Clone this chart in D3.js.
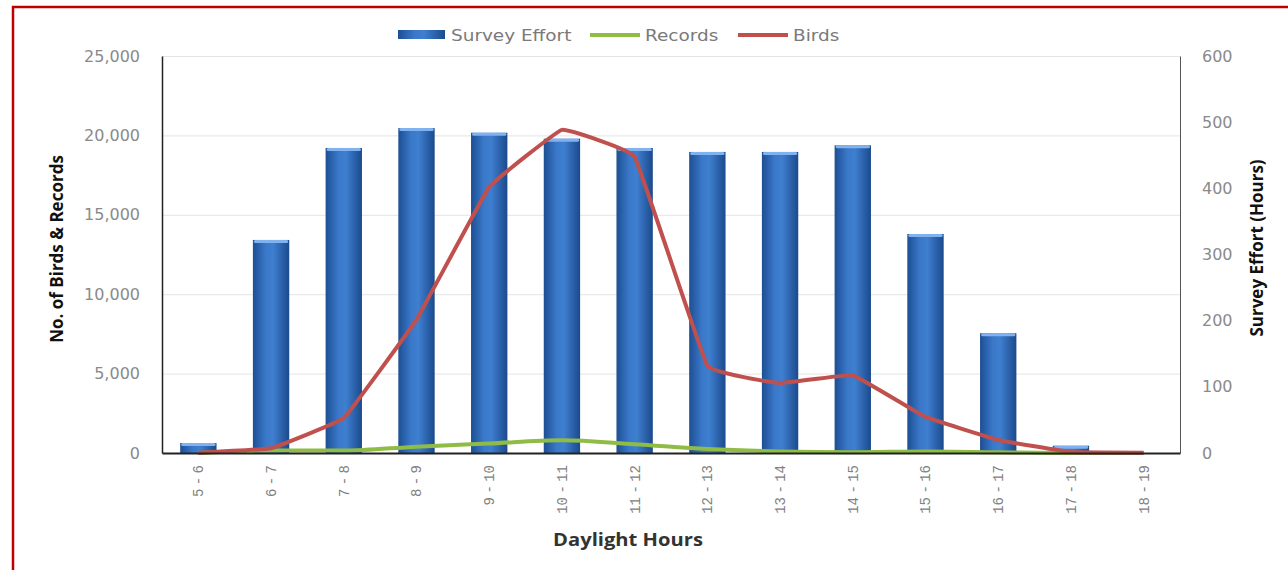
<!DOCTYPE html>
<html>
<head>
<meta charset="utf-8">
<script src="https://cdn.jsdelivr.net/npm/d3@7"></script>
<style>
  body { margin: 0; background: #fff; }
  svg { display: block; font-family: "Open Sans", "Noto Sans", sans-serif; }
</style>
</head>
<body>
<div id="chart"></div>
<script>
const width = 1288;
const height = 570;

// chart data
const hours = ['5 - 6', '6 - 7', '7 - 8', '8 - 9', '9 - 10', '10 - 11', '11 - 12',
  '12 - 13', '13 - 14', '14 - 15', '15 - 16', '16 - 17', '17 - 18', '18 - 19'];
const surveyEffort = [15, 322, 461, 491, 484, 475, 461, 455, 455, 465, 331, 181, 11, 0];
const birds = [20, 300, 2200, 8400, 16750, 20350, 18650, 5500, 4400, 4900, 2270, 820, 60, 20];
const records = [0, 150, 150, 400, 600, 800, 550, 250, 100, 50, 100, 50, 0, 0];
const leftTicks = [0, 5000, 10000, 15000, 20000, 25000];
const rightTicks = [0, 100, 200, 300, 400, 500, 600];

const margin = { top: 56, right: 108, bottom: 117, left: 162 };
const usableArea = {
  top: margin.top,
  right: width - margin.right,
  bottom: height - margin.bottom,
  left: margin.left,
};

const svg = d3.select('#chart').append('svg')
  .attr('width', width)
  .attr('height', height);

// gradient for the cylinder-like bars
const defs = svg.append('defs');
const grad = defs.append('linearGradient').attr('id', 'barGrad')
  .attr('x1', '0%').attr('x2', '100%').attr('y1', '0%').attr('y2', '0%');
grad.append('stop').attr('offset', '0%').attr('stop-color', '#1d4f93');
grad.append('stop').attr('offset', '35%').attr('stop-color', '#3a78c9');
grad.append('stop').attr('offset', '55%').attr('stop-color', '#3f7fd0');
grad.append('stop').attr('offset', '100%').attr('stop-color', '#1b4a8c');

// outer red frame
svg.append('rect')
  .attr('x', 13).attr('y', 7)
  .attr('width', width).attr('height', height)
  .attr('fill', 'none')
  .attr('stroke', '#c00000')
  .attr('stroke-width', 2.5);

const x = d3.scaleBand()
  .domain(hours)
  .range([usableArea.left, usableArea.right])
  .paddingInner(0.5)
  .paddingOuter(0.25);

const yLeft = d3.scaleLinear()
  .domain([0, 25000])
  .range([usableArea.bottom, usableArea.top]);

const yRight = d3.scaleLinear()
  .domain([0, 600])
  .range([usableArea.bottom, usableArea.top]);

// gridlines
svg.append('g')
  .attr('transform', `translate(${usableArea.left},0)`)
  .call(d3.axisLeft(yLeft).tickValues(leftTicks).tickFormat('')
    .tickSize(-(usableArea.right - usableArea.left)))
  .call(g => g.select('.domain').remove())
  .call(g => g.selectAll('line').attr('stroke', '#e4e4e4'));

// bars
const bars = svg.append('g');
bars.selectAll('rect.bar')
  .data(hours)
  .join('rect')
  .attr('class', 'bar')
  .attr('x', d => x(d))
  .attr('y', (d, i) => yRight(surveyEffort[i]))
  .attr('width', x.bandwidth())
  .attr('height', (d, i) => usableArea.bottom - yRight(surveyEffort[i]))
  .attr('fill', 'url(#barGrad)');

// light cap on top of each bar
bars.selectAll('rect.cap')
  .data(hours.filter((d, i) => surveyEffort[i] > 0))
  .join('rect')
  .attr('class', 'cap')
  .attr('x', d => x(d) + 1)
  .attr('y', d => yRight(surveyEffort[hours.indexOf(d)]))
  .attr('width', x.bandwidth() - 2)
  .attr('height', 3)
  .attr('rx', 1.5)
  .attr('fill', '#7fb2ee');

const cx = d => x(d) + x.bandwidth() / 2;

// records line (green)
svg.append('path')
  .datum(hours)
  .attr('fill', 'none')
  .attr('stroke', '#8fbc45')
  .attr('stroke-width', 4)
  .attr('d', d3.line()
    .x(d => cx(d))
    .y((d, i) => yLeft(records[i]))
    .curve(d3.curveMonotoneX));

// birds line (red)
svg.append('path')
  .datum(hours)
  .attr('fill', 'none')
  .attr('stroke', '#c0504d')
  .attr('stroke-width', 4)
  .attr('stroke-linejoin', 'round')
  .attr('d', d3.line()
    .x(d => cx(d))
    .y((d, i) => yLeft(birds[i]))
    .curve(d3.curveCardinal.tension(0.8)));

// axes
const leftAxis = svg.append('g')
  .attr('transform', `translate(${usableArea.left},0)`)
  .call(d3.axisLeft(yLeft).tickValues(leftTicks).tickSize(0).tickPadding(22)
    .tickFormat(d3.format(',')));
leftAxis.select('.domain').attr('stroke', '#222').attr('stroke-width', 1.5);

const rightAxis = svg.append('g')
  .attr('transform', `translate(${usableArea.right},0)`)
  .call(d3.axisRight(yRight).tickValues(rightTicks).tickSize(0).tickPadding(22));
rightAxis.select('.domain').attr('stroke', '#555').attr('stroke-width', 1);

[leftAxis, rightAxis].forEach(g => g.selectAll('text')
  .attr('font-size', 16)
  .attr('fill', '#8a8a8a')
  .attr('font-family', '"DejaVu Sans", sans-serif'));

const xAxis = svg.append('g')
  .attr('transform', `translate(0,${usableArea.bottom})`)
  .call(d3.axisBottom(x).tickSize(0).tickPadding(0));
xAxis.select('.domain').attr('stroke', '#222').attr('stroke-width', 2);
xAxis.selectAll('text')
  .attr('transform', 'rotate(-90)')
  .attr('text-anchor', 'end')
  .attr('x', -12)
  .attr('y', 0)
  .attr('dy', '0.35em')
  .attr('font-size', 14)
  .attr('word-spacing', '-5px')
  .attr('fill', '#808080')
  .attr('font-family', '"Liberation Mono", monospace');

// axis titles
svg.append('text')
  .attr('transform', 'translate(63,249) rotate(-90)')
  .attr('text-anchor', 'middle')
  .attr('font-size', 17)
  .attr('font-weight', 'bold')
  .attr('fill', '#111')
  .text('No. of Birds & Records');

svg.append('text')
  .attr('transform', 'translate(1263,248) rotate(-90)')
  .attr('text-anchor', 'middle')
  .attr('font-size', 17)
  .attr('font-weight', 'bold')
  .attr('fill', '#111')
  .text('Survey Effort (Hours)');

svg.append('text')
  .attr('transform', 'translate(628,546) scale(1.12,1)')
  .attr('text-anchor', 'middle')
  .attr('font-size', 18)
  .attr('font-weight', 'bold')
  .attr('fill', '#333')
  .text('Daylight Hours');

// legend
const legend = svg.append('g')
  .attr('font-size', 15)
  .attr('fill', '#7a7a7a')
  .attr('font-family', '"DejaVu Sans", sans-serif');
legend.append('rect')
  .attr('x', 398).attr('y', 30).attr('width', 47).attr('height', 9)
  .attr('fill', 'url(#barGrad)');
legend.append('text').attr('transform', 'translate(451,41) scale(1.23,1)').text('Survey Effort');
legend.append('line')
  .attr('x1', 590).attr('x2', 640).attr('y1', 35).attr('y2', 35)
  .attr('stroke', '#8fbc45').attr('stroke-width', 4);
legend.append('text').attr('transform', 'translate(645,41) scale(1.23,1)').text('Records');
legend.append('line')
  .attr('x1', 738).attr('x2', 788).attr('y1', 35).attr('y2', 35)
  .attr('stroke', '#c0504d').attr('stroke-width', 4);
legend.append('text').attr('transform', 'translate(793,41) scale(1.23,1)').text('Birds');
</script>
</body>
</html>
